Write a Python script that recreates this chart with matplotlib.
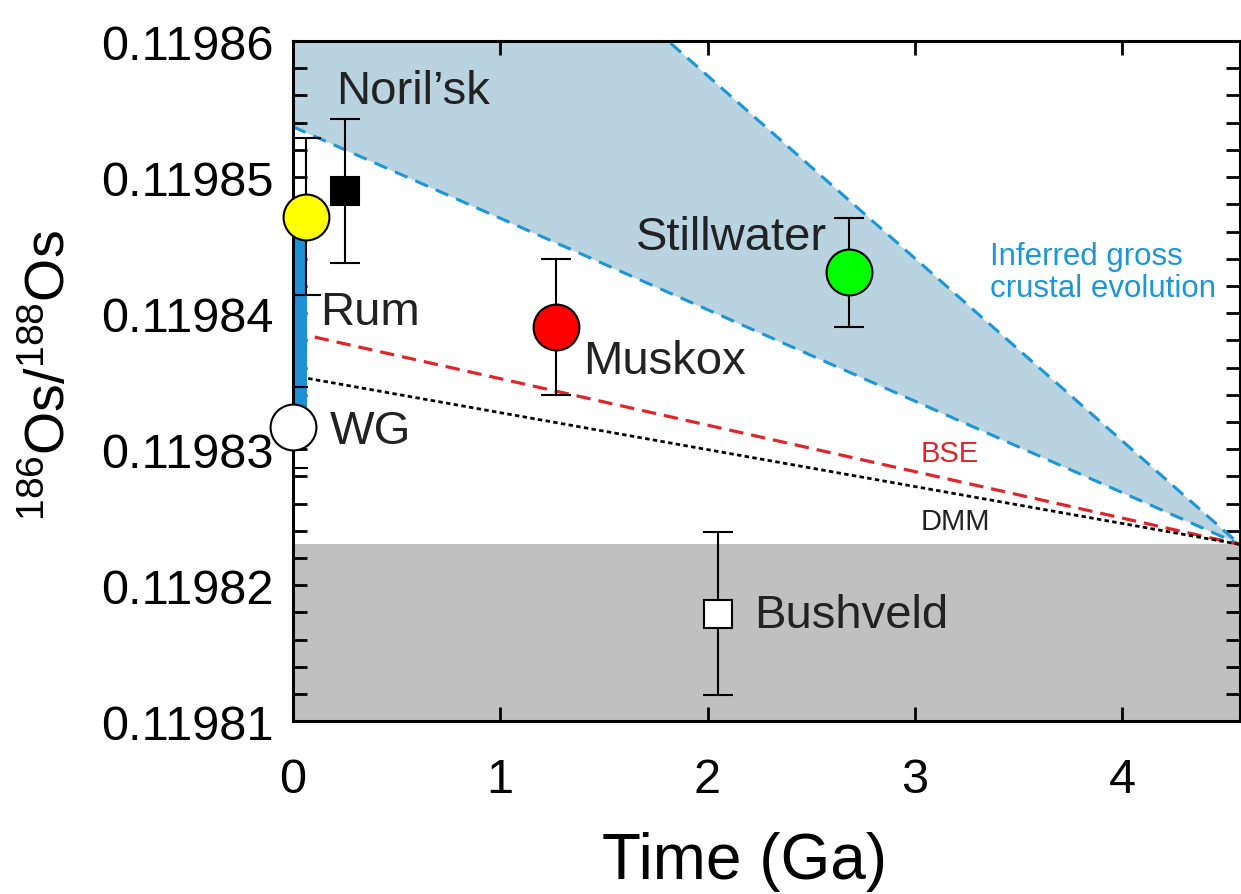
import matplotlib
matplotlib.use("Agg")
import matplotlib.pyplot as plt
from matplotlib.ticker import MultipleLocator, FormatStrFormatter

plt.rcParams['font.family'] = ['Liberation Sans', 'DejaVu Sans']
plt.rcParams['mathtext.fontset'] = 'custom'
plt.rcParams['mathtext.rm'] = 'Liberation Sans'
plt.rcParams['mathtext.it'] = 'Liberation Sans'

# Time axis limits (Ga) and Os isotope ratio limits
t_earth = 4.567
y_min, y_max = 0.11981, 0.11986

# Sample data: age (Ga), 186Os/188Os, 2-sigma
names = ["Rum", "WG", "Noril'sk", "Muskox", "Stillwater", "Bushveld"]
ages = [0.065, 0.0, 0.25, 1.27, 2.68, 2.05]
ratios = [0.1198471, 0.1198316, 0.1198490, 0.1198390, 0.1198430, 0.1198179]
errors = [0.0000058, 0.0000030, 0.0000053, 0.0000050, 0.0000040, 0.0000060]
markers = ['o', 'o', 's', 'o', 'o', 's']
faces = ['#ffff00', 'white', 'black', '#ff0000', '#00ff00', 'white']
sizes = [33, 33, 20, 33, 33, 20]

# Evolution lines: present-day value at t=0, all converge at solar-system initial
initial_ratio = 0.119823
bse_today = 0.1198386
dmm_today = 0.1198354
crust_low_today = 0.1198537
crust_high_today = 0.1198843

# Range of modern Rum values (bar on time-zero axis)
rum_range = (0.1198330, 0.1198471)

fig = plt.figure(figsize=(12.41, 8.95), dpi=100)
ax = fig.add_axes([0.236, 0.193, 0.763, 0.760])

ax.set_xlim(0, t_earth)
ax.set_ylim(y_min, y_max)

# Gray field below initial ratio
ax.axhspan(y_min, initial_ratio, color='#c0c0c0', zorder=0, lw=0)

# Inferred crustal evolution wedge
xs = [0, t_earth]
ax.fill_between(xs, [crust_low_today, initial_ratio], [crust_high_today, initial_ratio],
                color='#b9d3e0', lw=0, zorder=0.5)
blue = '#1c96d4'
ax.plot(xs, [crust_low_today, initial_ratio], ls=(0, (4.5, 2.8)), color=blue, lw=2.2, zorder=2)
ax.plot(xs, [crust_high_today, initial_ratio], ls=(0, (4.5, 2.8)), color=blue, lw=2.2, zorder=2)

# BSE and DMM
ax.plot(xs, [bse_today, initial_ratio], ls=(0, (4.5, 2.5)), color='#e0242a', lw=2.3, zorder=2)
ax.plot(xs, [dmm_today, initial_ratio], ls=(0, (1.6, 1.2)), color='black', lw=2.0, zorder=2)

# Rum range bar
ax.fill_betweenx(rum_range, 0, 0.07, color='#1f8fd6', lw=0, zorder=2.5)

for x, y, e, m, fc, s in zip(ages, ratios, errors, markers, faces, sizes):
    ax.errorbar(x, y, yerr=e, fmt='none', ecolor='black', elinewidth=1.5,
                capsize=11, capthick=1.5, zorder=3)
    ax.plot(x, y, marker=m, ms=s, mfc=fc, mec='black', mew=1.5, ls='none', zorder=4,
            clip_on=False)

# Labels
lab_fs = 34
ax.text(0.21, 0.1198563, "Noril\u2019sk", fontsize=lab_fs, va='center', ha='left', color='#222222')
ax.text(0.13, 0.1198401, "Rum", fontsize=lab_fs, va='center', ha='left', color='#222222')
ax.text(0.18, 0.1198313, "WG", fontsize=lab_fs, va='center', ha='left', color='#222222')
ax.text(1.40, 0.1198365, "Muskox", fontsize=lab_fs, va='center', ha='left', color='#222222')
ax.text(2.575, 0.1198456, "Stillwater", fontsize=lab_fs, va='center', ha='right', color='#222222')
ax.text(2.225, 0.1198178, "Bushveld", fontsize=lab_fs, va='center', ha='left', color='#222222')
ax.text(3.36, 0.1198430, "Inferred gross\ncrustal evolution", fontsize=22.5, va='center',
        ha='left', color=blue, linespacing=1.1)
ax.text(3.03, 0.1198297, "BSE", fontsize=21, va='center', ha='left', color='#e0242a')
ax.text(3.03, 0.1198247, "DMM", fontsize=21, va='center', ha='left', color='#222222')

# Axes styling
ax.xaxis.set_major_locator(MultipleLocator(1))
ax.yaxis.set_major_locator(MultipleLocator(0.00001))
ax.yaxis.set_minor_locator(MultipleLocator(0.000002))
ax.yaxis.set_major_formatter(FormatStrFormatter('%.5f'))
ax.tick_params(axis='both', which='both', direction='in', top=True, right=True,
               width=2, colors='black')
ax.tick_params(axis='both', which='major', length=10, labelsize=35)
ax.tick_params(axis='y', which='minor', length=10)
ax.tick_params(axis='x', which='major', pad=26)
ax.tick_params(axis='y', which='major', pad=14)
for sp in ax.spines.values():
    sp.set_linewidth(2.2)

ax.set_xlabel("Time (Ga)", fontsize=46)
ax.xaxis.set_label_coords(0.477, -0.162)
ax.set_ylabel(r"$^{186}$Os/$^{188}$Os", fontsize=40)
ax.yaxis.set_label_coords(-0.228, 0.51)

fig.savefig("out.png", dpi=100)
